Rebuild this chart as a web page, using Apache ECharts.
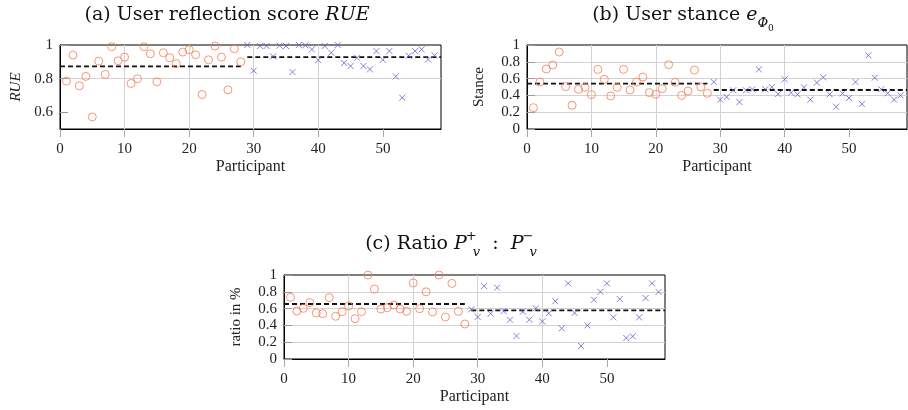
<!DOCTYPE html>
<html>
<head>
<meta charset="utf-8">
<script src="https://cdn.jsdelivr.net/npm/echarts@6/dist/echarts.min.js"></script>
<style>
  html, body { margin: 0; padding: 0; background: #fff; }
  #chart { width: 908px; height: 410px; }
</style>
</head>
<body>
<div id="chart"></div>
<script>
// participants 1..28 = group 1 (circles), 29..58 = group 2 (crosses)
const firstGroupStart = 1;
const secondGroupStart = 29;
const meanRanges = [[0, 28], [29, 59]];

const rueFirst = [0.785, 0.94, 0.757, 0.813, 0.572, 0.904, 0.825, 0.99, 0.906, 0.928, 0.771, 0.799, 0.99, 0.948,
  0.781, 0.954, 0.924, 0.889, 0.958, 0.972, 0.942, 0.705, 0.912, 0.994, 0.928, 0.733, 0.978, 0.90];
const rueSecond = [1.0, 0.847, 0.994, 0.994, 0.932, 0.996, 0.994, 0.839, 1.0, 0.998, 0.974, 0.91, 0.994, 0.954, 1.0,
  0.893, 0.875, 0.924, 0.875, 0.855, 0.964, 0.912, 0.964, 0.813, 0.686, 0.936, 0.964, 0.974, 0.914, 0.938];
const rueMeans = [0.873, 0.928];

const stanceFirst = [0.254, 0.56, 0.714, 0.762, 0.917, 0.504, 0.282, 0.472, 0.496, 0.409, 0.71, 0.591, 0.393, 0.496,
  0.71, 0.464, 0.56, 0.619, 0.433, 0.413, 0.48, 0.766, 0.556, 0.40, 0.452, 0.702, 0.50, 0.425];
const stanceSecond = [0.56, 0.349, 0.381, 0.46, 0.321, 0.46, 0.472, 0.71, 0.472, 0.50, 0.417, 0.591, 0.433, 0.413,
  0.496, 0.349, 0.552, 0.615, 0.413, 0.266, 0.425, 0.369, 0.56, 0.298, 0.877, 0.611, 0.472, 0.425, 0.349, 0.40];
const stanceMeans = [0.54, 0.464];

const ratioFirst = [0.734, 0.571, 0.603, 0.671, 0.548, 0.54, 0.73, 0.508, 0.563, 0.631, 0.48, 0.563, 1.0, 0.833,
  0.595, 0.611, 0.643, 0.595, 0.567, 0.905, 0.599, 0.80, 0.56, 1.0, 0.50, 0.90, 0.567, 0.417];
const ratioSecond = [0.591, 0.50, 0.869, 0.54, 0.849, 0.571, 0.468, 0.274, 0.563, 0.468, 0.603, 0.448, 0.544, 0.687,
  0.365, 0.90, 0.548, 0.155, 0.40, 0.706, 0.80, 0.90, 0.496, 0.714, 0.25, 0.27, 0.496, 0.726, 0.90, 0.798];
const ratioMeans = [0.655, 0.579];

const xTicks = [0, 10, 20, 30, 40, 50];
const rueTicks = [0.6, 0.8, 1];

const FONT = '"Liberation Serif", "DejaVu Serif", serif';
const TFONT = '"DejaVu Serif", serif';
const ORANGE = '#f77a55';
const BLUE = '#6a5ccf';
const GRIDC = '#d2d2d2';
const CROSS = 'path://M0,0L10,10M10,0L0,10';

const chart = echarts.init(document.getElementById('chart'));

const grids = [
  { left: 60, top: 45, width: 381, height: 84 },
  { left: 527, top: 45, width: 380, height: 84 },
  { left: 284, top: 275, width: 381, height: 84 }
];

function toPoints(values, start) {
  return values.map((v, i) => [start + i, v]);
}

function xAxisFor(i) {
  return {
    type: 'value', gridIndex: i, min: 0, max: 59, interval: 10, position: 'bottom',
    name: 'Participant', nameLocation: 'middle', nameGap: 30,
    nameTextStyle: { fontFamily: FONT, fontSize: 16, color: '#222' },
    axisLine: { show: true, onZero: false, lineStyle: { color: '#000', width: 1 } },
    axisTick: { show: true, inside: false, length: 8, customValues: xTicks, lineStyle: { color: '#aaa' } },
    axisLabel: { customValues: xTicks, margin: 13, fontFamily: FONT, fontSize: 15, color: '#222' },
    splitLine: { show: true, showMinLine: false, showMaxLine: false, lineStyle: { color: GRIDC, width: 1 } }
  };
}

function yAxisFor(i, min, step, ticks, gridColors, name, nameGap, nameStyle) {
  const tick = { show: true, inside: true, length: 8, lineStyle: { color: '#999' } };
  const label = { margin: 7, fontFamily: FONT, fontSize: 15, color: '#222' };
  if (ticks) {
    tick.customValues = ticks;
    label.customValues = ticks;
  }
  return {
    type: 'value', gridIndex: i, min: min, max: 1, interval: step, position: 'left',
    name: name, nameLocation: 'middle', nameGap: nameGap,
    nameTextStyle: Object.assign({ fontFamily: FONT, fontSize: 15, color: '#222' }, nameStyle),
    axisLine: { show: true, onZero: false, lineStyle: { color: '#000', width: 1 } },
    axisTick: tick,
    axisLabel: label,
    splitLine: { show: true, showMinLine: true, showMaxLine: false, lineStyle: { color: gridColors, width: 1 } }
  };
}

function seriesFor(i, first, second, means) {
  const s = [
    {
      type: 'scatter', xAxisIndex: i, yAxisIndex: i, clip: false,
      symbol: 'circle', symbolSize: 8,
      itemStyle: { color: 'transparent', borderColor: ORANGE, borderWidth: 1 },
      data: toPoints(first, firstGroupStart), z: 3
    },
    {
      type: 'scatter', xAxisIndex: i, yAxisIndex: i, clip: false,
      symbol: CROSS, symbolSize: 6,
      itemStyle: { color: 'transparent', borderColor: BLUE, borderWidth: 1 },
      data: toPoints(second, secondGroupStart), z: 3
    }
  ];
  means.forEach((m, k) => {
    s.push({
      type: 'line', xAxisIndex: i, yAxisIndex: i, showSymbol: false, silent: true,
      lineStyle: { color: '#111', width: 1.8, type: [5, 3] },
      data: meanRanges[k].map(x => [x, m]), z: 2
    });
  });
  return s;
}

const TS = 19;
const titleRich = {
  i: { fontFamily: TFONT, fontSize: TS, fontStyle: 'italic', color: '#111' },
  sb: { fontFamily: TFONT, fontSize: 13, fontStyle: 'italic', color: '#111', verticalAlign: 'bottom', padding: [0, 0, -5, 0] },
  sbb: { fontFamily: TFONT, fontSize: 9, color: '#111', verticalAlign: 'bottom', padding: [0, 0, -8, 0] },
  sp: { fontFamily: TFONT, fontSize: 13, color: '#111', verticalAlign: 'top', padding: [-5, 0, 0, 4], width: 1 },
  sv: { fontFamily: TFONT, fontSize: 13, fontStyle: 'italic', color: '#111', verticalAlign: 'bottom', padding: [0, 0, -5, 1] }
};
const titleStyle = { fontFamily: TFONT, fontSize: TS, fontWeight: 'normal', color: '#111', rich: titleRich };

chart.setOption({
  animation: false,
  title: [
    { text: '(a) User reflection score {i|RUE}', left: 222, textAlign: 'center', top: 1, textStyle: titleStyle },
    { text: '(b) User stance {i|e}{sb|Φ}{sbb|0}', left: 678, textAlign: 'center', top: 1, textStyle: titleStyle },
    { text: '(c) Ratio {i|P}{sp|+}{sv|v}  :  {i|P}{sp|−}{sv|v}', left: 446, textAlign: 'center', top: 230, textStyle: titleStyle }
  ],
  grid: grids.map(g => Object.assign({ show: true, borderColor: '#000', borderWidth: 1, backgroundColor: 'transparent', containLabel: false }, g)),
  xAxis: [xAxisFor(0), xAxisFor(1), xAxisFor(2)],
  yAxis: [
    yAxisFor(0, 0.5, 0.1, rueTicks, ['transparent', GRIDC], 'RUE', 36, { fontStyle: 'italic' }),
    yAxisFor(1, 0, 0.2, null, ['transparent', GRIDC, GRIDC, GRIDC, GRIDC], 'Stance', 40, {}),
    yAxisFor(2, 0, 0.2, null, ['transparent', GRIDC, GRIDC, GRIDC, GRIDC], 'ratio in %', 40, {})
  ],
  series: [].concat(
    seriesFor(0, rueFirst, rueSecond, rueMeans),
    seriesFor(1, stanceFirst, stanceSecond, stanceMeans),
    seriesFor(2, ratioFirst, ratioSecond, ratioMeans)
  )
});
</script>
</body>
</html>
